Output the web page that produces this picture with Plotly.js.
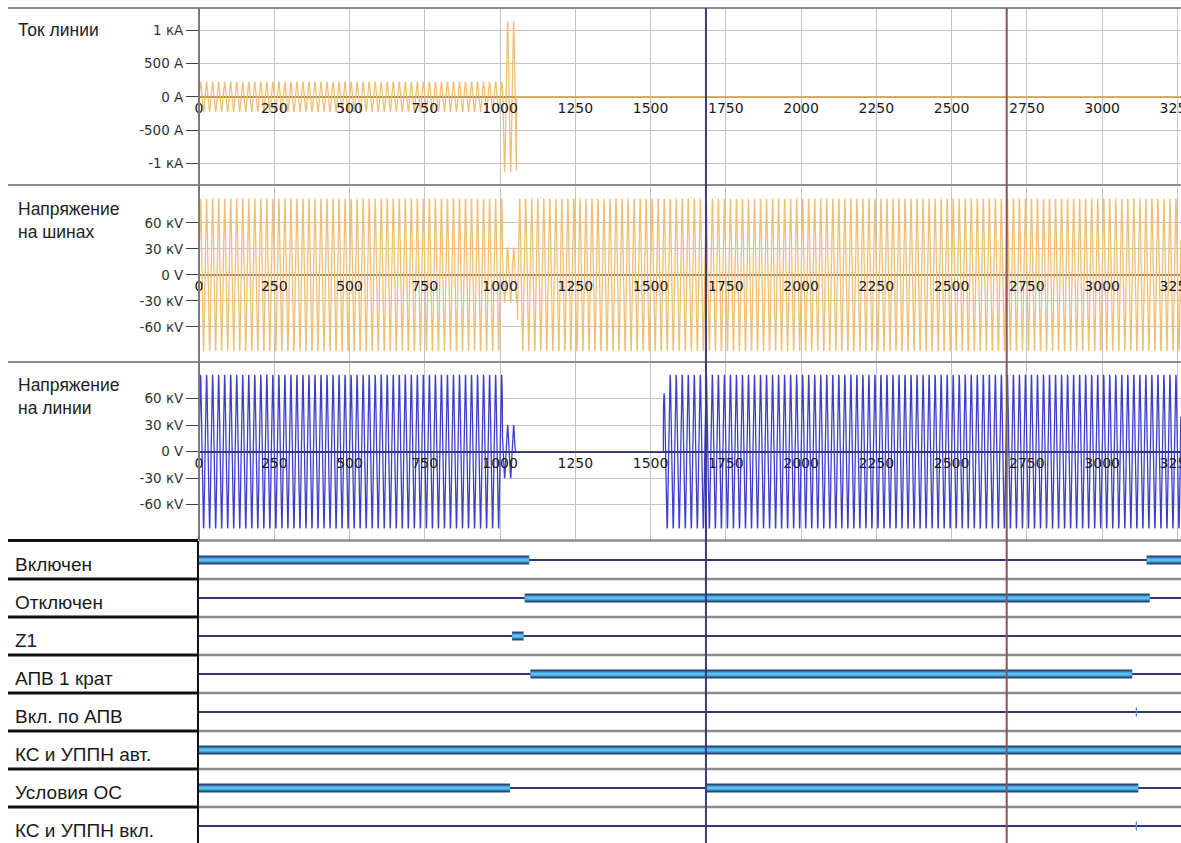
<!DOCTYPE html>
<html><head><meta charset="utf-8">
<script src="https://cdn.plot.ly/plotly-3.0.1.min.js"></script>
<style>html,body{margin:0;padding:0;background:#fff}#chart{width:1181px;height:843px}</style>
</head><body><div id="chart"></div>
<script>
// ---------- data ----------
const timeRange = [0, 3262];               // ms
const timeTicks = [0, 250, 500, 750, 1000, 1250, 1500, 1750, 2000, 2250, 2500, 2750, 3000, 3250];
const cursorTimes = [1684, 2683];           // ms

// analog channels: piecewise segments (ms) with 50 Hz peak amplitude
const currentSegStart = [0, 1010, 1055];
const currentSegEnd   = [1010, 1055, 3262];
const currentAmp      = [225, 1130, 0];      // A
const busSegStart = [0, 1008, 1058];
const busSegEnd   = [1008, 1058, 3262];
const busAmp      = [88, 32, 88];            // kV
const lineSegStart = [0, 1008, 1050, 1543, 1549];
const lineSegEnd   = [1008, 1050, 1543, 1549, 3262];
const lineAmp      = [87, 30, 0, 66, 87];    // kV

const currentTickVals = [1000, 500, 0, -500, -1000];
const currentTickText = ['1 кА', '500 А', '0 А', '-500 А', '-1 кА'];
const voltTickVals = [60, 30, 0, -30, -60];
const voltTickText = ['60 кV', '30 кV', '0 V', '-30 кV', '-60 кV'];
const panelNames = ['Ток линии', 'Напряжение<br>на шинах', 'Напряжение<br>на линии'];

// digital channels: ON intervals (ms)
const signalNames = ['Включен', 'Отключен', 'Z1', 'АПВ 1 крат', 'Вкл. по АПВ', 'КС и УППН авт.', 'Условия ОС', 'КС и УППН вкл.'];
const signalOnStart = [[0, 3148], [1082], [1040], [1101], [3112], [0], [0, 1686], [3112]];
const signalOnEnd   = [[1097, 3262], [3158], [1078], [3100], [3115], [3262], [1033, 3120], [3115]];

// ---------- layout helpers ----------
const W = 1181, H = 843;
const px = v => v / W;
const py = v => 1 - v / H;
const xDom = [px(199), 1];
const FREQ = 50;

function wave(starts, ends, amps) {
  const x = [], y = [];
  for (let s = 0; s < starts.length; s++) {
    for (let t = starts[s]; t < ends[s]; t += 0.5) {
      x.push(t);
      y.push(amps[s] * Math.sin(2 * Math.PI * FREQ * t / 1000));
    }
  }
  return {x, y};
}

const panels = [
  {dom: [py(185), py(8)], range: [-1325, 1335], tv: currentTickVals, tt: currentTickText,
   data: wave(currentSegStart, currentSegEnd, currentAmp), color: '#f0bf74', zc: '#a38a55'},
  {dom: [py(362), py(187)], range: [-100.4, 101.5], tv: voltTickVals, tt: voltTickText,
   data: wave(busSegStart, busSegEnd, busAmp), color: '#f0bf74', zc: '#9c8352'},
  {dom: [py(540), py(363)], range: [-100, 100.4], tv: voltTickVals, tt: voltTickText,
   data: wave(lineSegStart, lineSegEnd, lineAmp), color: '#3e3ecc', zc: '#2c2c62'}
];

const traces = [];
const layout = {
  width: W, height: H, margin: {l: 0, r: 0, t: 0, b: 0},
  paper_bgcolor: '#fff', plot_bgcolor: '#fff', showlegend: false, hovermode: false,
  shapes: [], annotations: []
};

panels.forEach((p, i) => {
  const n = i + 1, sfx = n === 1 ? '' : n;
  traces.push({type: 'scatter', mode: 'lines', x: p.data.x, y: p.data.y,
    xaxis: 'x' + sfx, yaxis: 'y' + sfx, line: {color: p.color, width: 1.3}});
  const zeroPos = p.dom[0] + (0 - p.range[0]) / (p.range[1] - p.range[0]) * (p.dom[1] - p.dom[0]);
  layout['xaxis' + sfx] = {
    domain: xDom, range: timeRange, anchor: 'free', position: zeroPos,
    tickvals: timeTicks, ticks: '', showline: false, zeroline: false,
    showgrid: true, gridcolor: '#c4c4c4', gridwidth: 1,
    tickfont: {family: 'DejaVu Sans', size: 14, color: '#1a1a1a'},
    ticklabelstandoff: 1, ticklabeloverflow: 'allow',
    matches: n === 1 ? undefined : 'x'
  };
  layout['yaxis' + sfx] = {
    domain: p.dom, range: p.range, anchor: 'x' + sfx,
    tickvals: p.tv, ticktext: p.tt, ticks: 'outside', ticklen: 12, tickcolor: '#444', tickwidth: 1,
    tickfont: {family: 'DejaVu Sans', size: 13.5, color: '#333'},
    showgrid: true, gridcolor: '#c4c4c4', gridwidth: 1,
    zeroline: true, zerolinecolor: p.zc, zerolinewidth: 2,
    showline: false
  };
  layout.annotations.push({xref: 'paper', yref: 'paper', x: px(16), y: p.dom[1] - 10 / H,
    xanchor: 'left', yanchor: 'top', align: 'left', showarrow: false, text: panelNames[i],
    font: {family: 'Liberation Sans', size: 17.5, color: '#222'}});
});

// digital subplot
const rowH = 38;
const digTop = 541;
const digRange = [(H - digTop) / rowH, 0];
layout.xaxis4 = {domain: xDom, range: timeRange, anchor: 'y4', matches: 'x', visible: false, showgrid: false, zeroline: false};
layout.yaxis4 = {domain: [0, py(digTop)], range: digRange, anchor: 'x4', visible: false, showgrid: false, zeroline: false};

signalNames.forEach((name, i) => {
  const yc = i + 0.5;
  traces.push({type: 'scatter', mode: 'lines', x: timeRange, y: [yc, yc], xaxis: 'x4', yaxis: 'y4',
    line: {color: '#35357c', width: 2}});
  const sx = [], sy = [];
  signalOnStart[i].forEach((s, k) => { sx.push(s, signalOnEnd[i][k], null); sy.push(yc, yc, null); });
  traces.push({type: 'scatter', mode: 'lines', x: sx, y: sy, xaxis: 'x4', yaxis: 'y4', line: {color: '#2b4670', width: 9}});
  traces.push({type: 'scatter', mode: 'lines', x: sx, y: sy, xaxis: 'x4', yaxis: 'y4', line: {color: '#3ea8e2', width: 5}});
  traces.push({type: 'scatter', mode: 'lines', x: sx, y: sy, xaxis: 'x4', yaxis: 'y4', line: {color: '#86d2f5', width: 1.2}});
  layout.annotations.push({xref: 'paper', yref: 'y4', x: px(13), y: yc, yshift: -4,
    xanchor: 'left', yanchor: 'middle', showarrow: false, text: name,
    font: {family: 'Liberation Sans', size: 19, color: '#1a1a1a'}});
  if (i > 0) {
    layout.shapes.push({type: 'line', xref: 'paper', yref: 'y4', x0: px(199), x1: 1, y0: i, y1: i, line: {color: '#8c8c8c', width: 2.5}, layer: 'below'});
    layout.shapes.push({type: 'line', xref: 'paper', yref: 'y4', x0: px(8), x1: px(198), y0: i, y1: i, line: {color: '#111', width: 3}});
  }
});

// frame lines
[8, 185, 362].forEach(v => layout.shapes.push({type: 'line', xref: 'paper', yref: 'paper', x0: px(8), x1: 1, y0: py(v), y1: py(v), line: {color: '#8c8c8c', width: 2}}));
layout.shapes.push({type: 'line', xref: 'paper', yref: 'paper', x0: px(199), x1: 1, y0: py(540.5), y1: py(540.5), line: {color: '#8c8c8c', width: 2.5}});
layout.shapes.push({type: 'line', xref: 'paper', yref: 'paper', x0: px(8), x1: px(198), y0: py(540.5), y1: py(540.5), line: {color: '#111', width: 3}});
layout.shapes.push({type: 'line', xref: 'paper', yref: 'paper', x0: px(199), x1: px(199), y0: py(540), y1: py(8), line: {color: '#7a7a7a', width: 2}});
layout.shapes.push({type: 'line', xref: 'paper', yref: 'paper', x0: px(198), x1: px(198), y0: 0, y1: py(541), line: {color: '#111', width: 2}});

// cursors
const cursorColors = ['#3b3b7c', '#8c5252'];
cursorTimes.forEach((t, k) => layout.shapes.push({type: 'line', xref: 'x', yref: 'paper', x0: t, x1: t, y0: 0, y1: py(8), line: {color: cursorColors[k], width: 2}}));

Plotly.newPlot('chart', traces, layout, {staticPlot: true, displayModeBar: false});
</script>
</body></html>
